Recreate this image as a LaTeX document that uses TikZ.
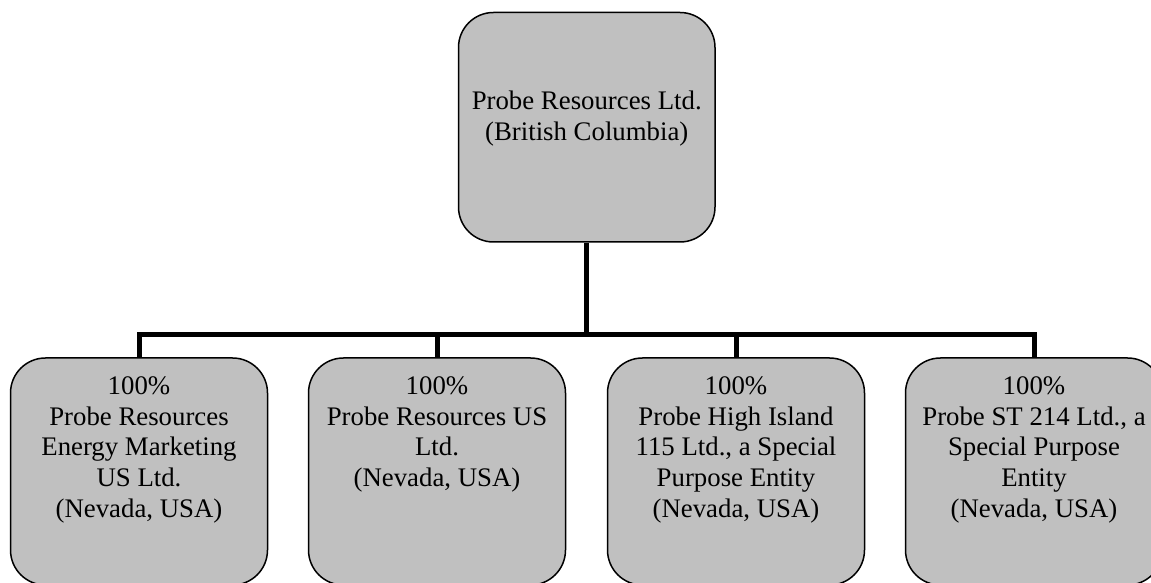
\documentclass[tikz,border=0pt]{standalone}
\usepackage{fontspec}
\setmainfont{Liberation Serif}
\definecolor{boxgray}{RGB}{192,192,192}
\tikzset{
  orgbox/.style={draw=black, fill=boxgray, line width=1.5pt, rounded corners=35pt,
    minimum width=257pt, inner sep=0pt, rectangle},
  orgtext/.style={align=center, inner sep=0pt, font=\fontsize{26.8}{30.8}\selectfont},
  conn/.style={line width=5pt, draw=black}
}
\begin{document}
\begin{tikzpicture}[x=1pt,y=1pt]
\useasboundingbox (0,0) rectangle (1151,583);
\clip (0,0) rectangle (1151,583);
% top box
\node[orgbox, minimum width=256.5pt, minimum height=229.5pt] (top) at (586.75,455.75) {};
\node[orgtext, anchor=north] (toptext) at (586.75,492) {Probe Resources Ltd.\\(British Columbia)};
% bottom boxes
\node[orgbox, minimum height=227pt] (b1) at (139,111.5) {};
\node[orgbox, minimum height=227pt] (b2) at (437,111.5) {};
\node[orgbox, minimum height=227pt] (b3) at (736,111.5) {};
\node[orgbox, minimum height=227pt] (b4) at (1034,111.5) {};
\node[orgtext, anchor=north] (t1) at ([yshift=-19pt]b1.north) {100\%\\Probe Resources\\Energy Marketing\\US Ltd.\\(Nevada, USA)};
\node[orgtext, anchor=north] (t2) at ([yshift=-19pt]b2.north) {100\%\\Probe Resources US\\Ltd.\\(Nevada, USA)};
\node[orgtext, anchor=north] (t3) at ([yshift=-19pt]b3.north) {100\%\\Probe High Island\\115 Ltd., a Special\\Purpose Entity\\(Nevada, USA)};
\node[orgtext, anchor=north] (t4) at ([yshift=-19pt]b4.north) {100\%\\Probe ST 214 Ltd., a\\Special Purpose\\Entity\\(Nevada, USA)};
% connectors
\coordinate (j) at (586.75,248);
\draw[conn] (top.south) -- (j);
\draw[conn] (b1.north) -- (b1.north |- j) -- (b4.north |- j) -- (b4.north);
\draw[conn] (b2.north) -- (b2.north |- j);
\draw[conn] (b3.north) -- (b3.north |- j);
\end{tikzpicture}
\end{document}
